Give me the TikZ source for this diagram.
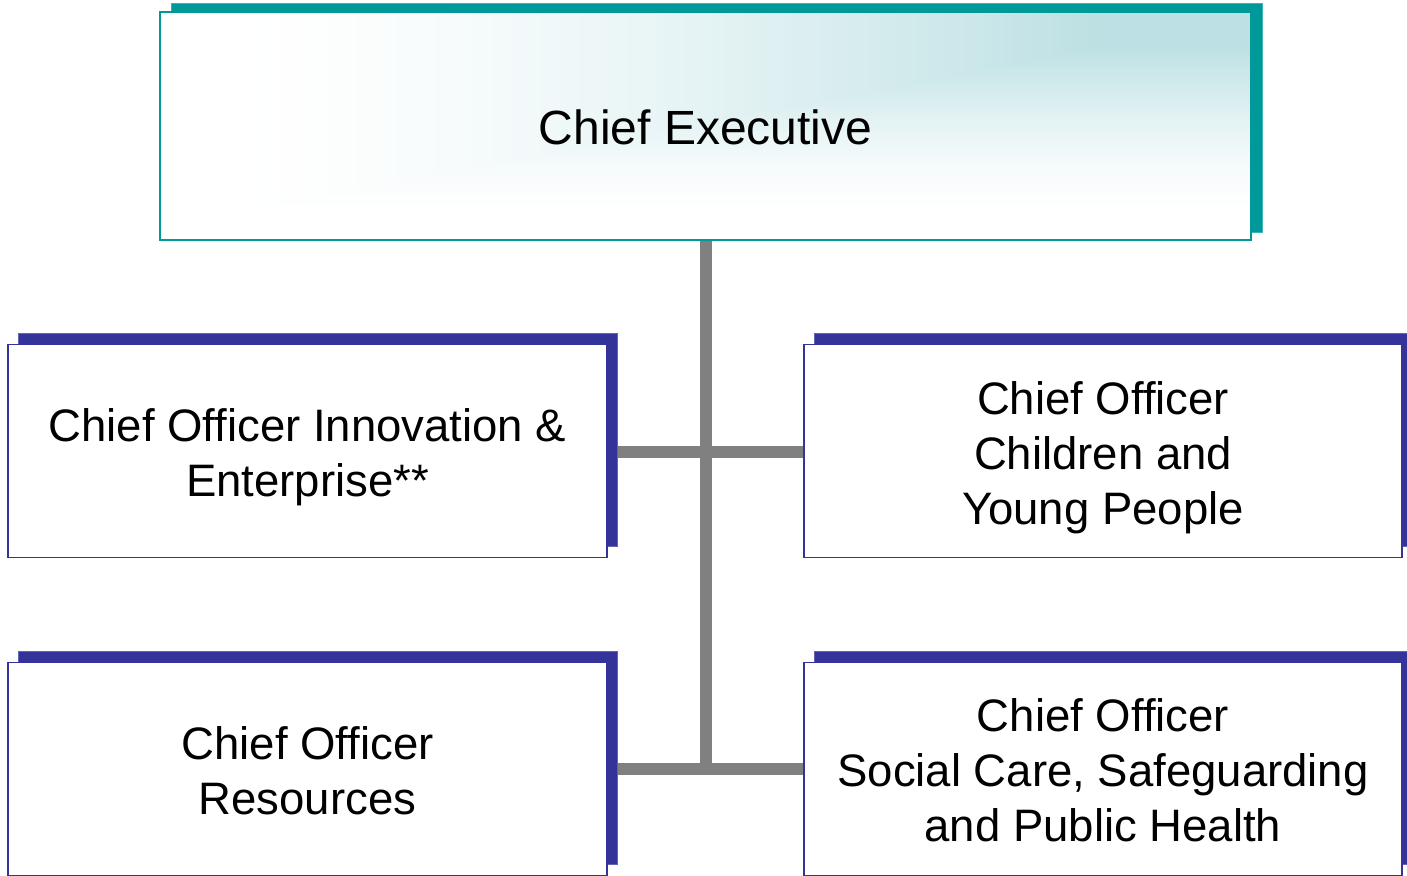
\documentclass[tikz,border=0pt]{standalone}
\usepackage{fontspec}
\setmainfont{Liberation Sans}
\usetikzlibrary{shadows,backgrounds}
\definecolor{tealc}{RGB}{0,153,153}
\definecolor{tealedge}{RGB}{60,178,178}
\definecolor{bluec}{RGB}{51,51,153}
\definecolor{blueedge}{RGB}{100,100,180}
\definecolor{tealfill}{RGB}{188,224,227}
\definecolor{connc}{RGB}{128,128,128}
\begin{document}
\begin{tikzpicture}[x=1pt,y=-1pt,
  box/.style={draw=bluec, line width=1.5pt, fill=white, minimum width=599pt, minimum height=213pt,
    inner sep=0pt,
    general shadow={fill=bluec, draw=blueedge, line width=1pt, shadow xshift=10.5pt, shadow yshift=11pt}},
  boxtext/.style={align=center, inner sep=0pt, font=\fontsize{45.5}{55}\selectfont},
  topbox/.style={draw=tealc, line width=1.5pt, fill=white, minimum width=1091pt, minimum height=228pt,
    inner sep=0pt,
    general shadow={fill=tealc, draw=tealedge, line width=1pt, shadow xshift=11.5pt, shadow yshift=8pt},
    path picture={
      \coordinate (ne) at (path picture bounding box.north east);
      \foreach \i in {0,...,90}{
        \pgfmathsetmacro{\s}{1-\i/90}
        \pgfmathsetmacro{\pc}{100*(\i/90)^1.5}
        \fill[tealfill!\pc!white] ([xshift={-(151+868*\s)*1pt}, yshift={-(35+167*\s)*1pt}]ne) rectangle ([xshift=2pt,yshift=2pt]ne);
      }}},
  connector/.style={draw=connc, line width=12pt}]
\useasboundingbox (0,0) rectangle (1407,875);
\clip (0,0) rectangle (1407,875);
\node[topbox] (ce) at (705.5,126) {};
\node[boxtext, font=\fontsize{48}{55}\selectfont] (cet) at (705.5,127) {Chief Executive};
\node[box] (ie) at (307.5,451) {};
\node[box, minimum width=598pt] (cyp) at (1103,451) {};
\node[box] (res) at (307.5,769) {};
\node[box, minimum width=598pt] (sc) at (1103,769) {};
\node[boxtext] (iet) at ([yshift=-6.5pt]ie.center) {Chief Officer Innovation \&\\Enterprise**};
\node[boxtext] (cypt) at ([yshift=-7pt]cyp.center) {Chief Officer\\Children and\\Young People};
\node[boxtext] (rest) at ([yshift=-2pt]res.center) {Chief Officer\\Resources};
\node[boxtext] (sct) at ([yshift=-1.5pt]sc.center) {Chief Officer\\Social Care, Safeguarding\\and Public Health};
\begin{pgfonlayer}{background}
\draw[connector] (ce.south) -- (ce.south |- res.east);
\draw[connector] ([yshift=-1pt]ie.east) -- ([yshift=-1pt]cyp.west);
\draw[connector] (res.east) -- (sc.west);
\end{pgfonlayer}
\end{tikzpicture}
\end{document}
